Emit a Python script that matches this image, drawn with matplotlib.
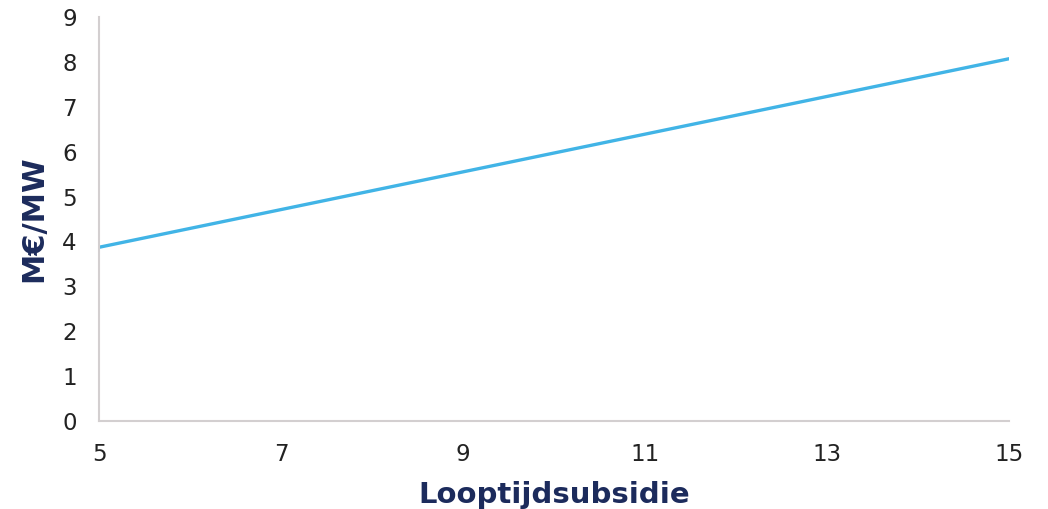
import matplotlib
matplotlib.use("Agg")
import matplotlib.pyplot as plt

# Values
looptijd = [5, 6, 7, 8, 9, 10, 11, 12, 13, 14, 15]
kosten = [3.87, 4.29, 4.71, 5.13, 5.55, 5.97, 6.39, 6.81, 7.23, 7.65, 8.07]
x_ticks = [5, 7, 9, 11, 13, 15]
y_ticks = [0, 1, 2, 3, 4, 5, 6, 7, 8, 9]

navy = '#1c2b5c'

fig = plt.figure(figsize=(10.48, 5.09), dpi=100)
ax = fig.add_axes([0.0945, 0.1729, 0.8683, 0.7937])

ax.plot(looptijd, kosten, color='#41b4e6', linewidth=2.4, solid_capstyle='round')

ax.set_xlim(5, 15)
ax.set_ylim(0, 9)
ax.set_xticks(x_ticks)
ax.set_yticks(y_ticks)
ax.tick_params(length=0, labelsize=16.5, colors='#222222')
ax.tick_params(axis='y', pad=16)
ax.tick_params(axis='x', pad=16)

for side in ['top', 'right']:
    ax.spines[side].set_visible(False)
for side in ['left', 'bottom']:
    ax.spines[side].set_color('#d3cfd0')
    ax.spines[side].set_linewidth(1.5)

ax.set_xlabel('Looptijdsubsidie', fontsize=21, fontweight='bold', color=navy, labelpad=11)
ax.set_ylabel('M€/MW', fontsize=22, fontweight='bold', color=navy, labelpad=10)

fig.savefig('out.png', dpi=100)
